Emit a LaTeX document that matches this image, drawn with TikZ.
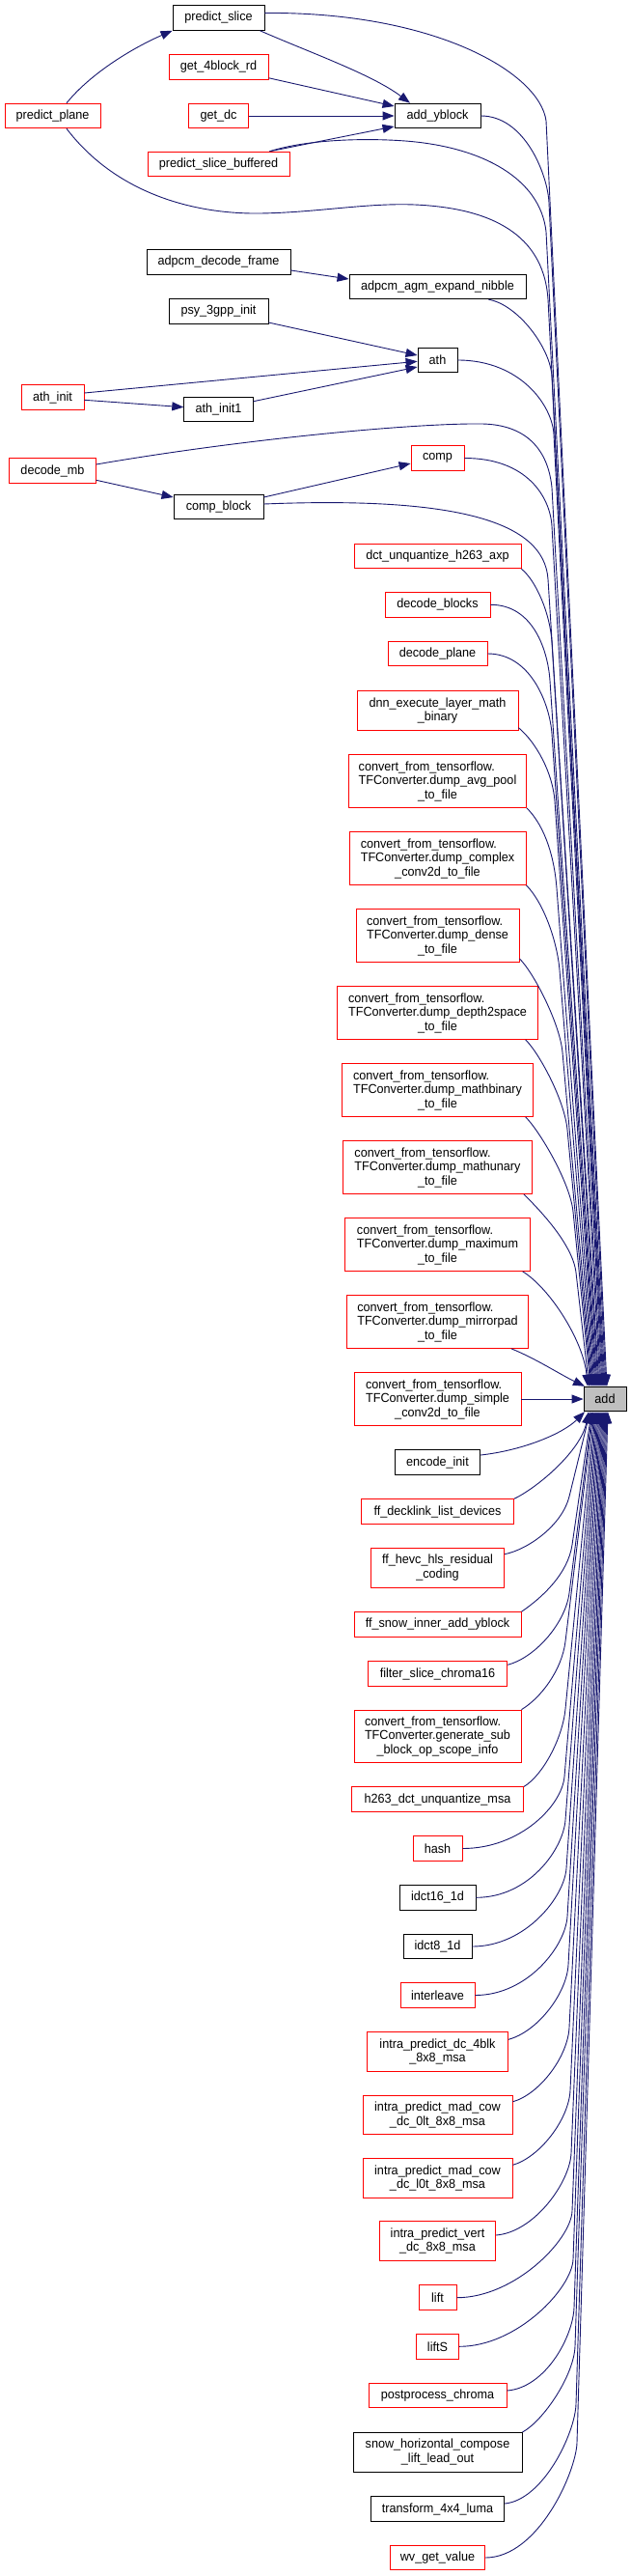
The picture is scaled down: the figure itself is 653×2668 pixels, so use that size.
\documentclass[tikz,border=0pt]{standalone}
\usepackage{fontspec}
\setmainfont{Liberation Sans}[FakeStretch=0.95]
\usepackage{calc}
\usetikzlibrary{arrows.meta,calc}
\definecolor{edgec}{HTML}{191970}
\definecolor{nred}{HTML}{FF0000}
\definecolor{addfill}{HTML}{BFBFBF}
\newcommand\tfc[2]{\makebox[\widthof{TFConverter.#1}][l]{convert\_from\_tensorflow.}\\TFConverter.#1\\#2}
\newcommand\bendedge[4]{\draw[callarrow] (#1) .. controls +(#2) and ($(#3)!-30pt!(#4)$) .. (#3) -- (#4);}
\tikzset{
 nodebox/.style={draw=black, line width=0.9pt, inner sep=0pt, align=center, font=\fontsize{13.3pt}{14.5pt}\selectfont, minimum height=25.6pt},
 rednode/.style={nodebox, draw=nred},
 twol/.style={minimum height=40.5pt},
 threel/.style={minimum height=54.8pt},
 callarrow/.style={draw=edgec, line width=0.9pt, -{Triangle[length=12pt,width=9pt]}},
}
\begin{document}
\begin{tikzpicture}[x=1pt,y=-1pt]
\path[use as bounding box, fill=white] (0,0) rectangle (653,2668);
% rank -1
\node[rednode, minimum width=99pt] (pplane) at (54.5,120) {predict\_plane};
\node[rednode, minimum width=65pt] (athinit) at (54.5,411.7) {ath\_init};
\node[rednode, minimum width=89.5pt] (decmb) at (54.5,487.5) {decode\_mb};
% rank 0
\node[nodebox, minimum width=95pt] (pslice) at (226.5,18.5) {predict\_slice};
\node[rednode, minimum width=103pt] (g4b) at (226.5,69.5) {get\_4block\_rd};
\node[rednode, minimum width=61.5pt] (getdc) at (226.5,120) {get\_dc};
\node[rednode, minimum width=147pt] (psb) at (226.5,170) {predict\_slice\_buffered};
\node[nodebox, minimum width=149pt] (adf) at (226.5,271.5) {adpcm\_decode\_frame};
\node[nodebox, minimum width=103pt] (psy) at (226.5,322.3) {psy\_3gpp\_init};
\node[nodebox, minimum width=71.5pt] (athinit1) at (226.5,424) {ath\_init1};
\node[nodebox, minimum width=93pt] (compblock) at (226.5,525) {comp\_block};
% rank 1
\node[nodebox, minimum width=89pt] (addy) at (453.5,120) {add\_yblock};
\node[nodebox, minimum width=183pt] (agm) at (453.5,297) {adpcm\_agm\_expand\_nibble};
\node[nodebox, minimum width=41pt] (ath) at (453.5,373) {ath};
\node[rednode, minimum width=55pt] (comp) at (453.5,474.5) {comp};
\node[rednode, minimum width=173pt] (dct) at (453.5,576) {dct\_unquantize\_h263\_axp};
\node[rednode, minimum width=109pt] (decblocks) at (453.5,626.3) {decode\_blocks};
\node[rednode, minimum width=103pt] (decplane) at (453.5,677) {decode\_plane};
\node[rednode, twol, minimum width=167pt] (dnn) at (453.5,736) {dnn\_execute\_layer\_math\\\_binary};
\node[rednode, threel, minimum width=184pt] (avgpool) at (453.5,809) {\tfc{dump\_avg\_pool}{\_to\_file}};
\node[rednode, threel, minimum width=183pt] (complex) at (453.5,889) {\tfc{dump\_complex}{\_conv2d\_to\_file}};
\node[rednode, threel, minimum width=169pt] (dense) at (453.5,969) {\tfc{dump\_dense}{\_to\_file}};
\node[rednode, threel, minimum width=208.5pt] (d2s) at (453.5,1049) {\tfc{dump\_depth2space}{\_to\_file}};
\node[rednode, threel, minimum width=198.5pt] (mbin) at (453.5,1129) {\tfc{dump\_mathbinary}{\_to\_file}};
\node[rednode, threel, minimum width=196pt] (mun) at (453.5,1209) {\tfc{dump\_mathunary}{\_to\_file}};
\node[rednode, threel, minimum width=191.5pt] (maxim) at (453.5,1289) {\tfc{dump\_maximum}{\_to\_file}};
\node[rednode, threel, minimum width=188pt] (mirror) at (453.5,1369) {\tfc{dump\_mirrorpad}{\_to\_file}};
\node[rednode, threel, minimum width=173pt] (simple) at (453.5,1449) {\tfc{dump\_simple}{\_conv2d\_to\_file}};
\node[nodebox, minimum width=88.5pt] (encinit) at (453.5,1514.5) {encode\_init};
\node[rednode, minimum width=158pt] (decklink) at (453.5,1565.5) {ff\_decklink\_list\_devices};
\node[rednode, twol, minimum width=138pt] (hevc) at (453.5,1623.7) {ff\_hevc\_hls\_residual\\\_coding};
\node[rednode, minimum width=173pt] (snowinner) at (453.5,1682.5) {ff\_snow\_inner\_add\_yblock};
\node[rednode, minimum width=144.5pt] (filter) at (453.5,1733.5) {filter\_slice\_chroma16};
\node[rednode, threel, minimum width=173pt] (gensub) at (453.5,1798.5) {\tfc{generate\_sub}{\_block\_op\_scope\_info}};
\node[rednode, minimum width=178pt] (h263) at (453.5,1863.7) {h263\_dct\_unquantize\_msa};
\node[rednode, minimum width=51pt] (hash) at (453.5,1914.5) {hash};
\node[nodebox, minimum width=79pt] (idct16) at (453.5,1965.3) {idct16\_1d};
\node[nodebox, minimum width=71pt] (idct8) at (453.5,2016) {idct8\_1d};
\node[rednode, minimum width=77pt] (interleave) at (453.5,2066.5) {interleave};
\node[rednode, twol, minimum width=146pt] (dcblk) at (453.5,2125) {intra\_predict\_dc\_4blk\\\_8x8\_msa};
\node[rednode, twol, minimum width=155pt] (mczlt) at (453.5,2190.5) {intra\_predict\_mad\_cow\\\_dc\_0lt\_8x8\_msa};
\node[rednode, twol, minimum width=155pt] (mclzt) at (453.5,2256) {intra\_predict\_mad\_cow\\\_dc\_l0t\_8x8\_msa};
\node[rednode, twol, minimum width=120pt] (vert) at (453.5,2321) {intra\_predict\_vert\\\_dc\_8x8\_msa};
\node[rednode, minimum width=39pt] (lift) at (453.5,2379.7) {lift};
\node[rednode, minimum width=44pt] (liftS) at (453.5,2430.3) {liftS};
\node[rednode, minimum width=143pt] (postproc) at (453.5,2481) {postprocess\_chroma};
\node[nodebox, twol, minimum width=175pt] (snowh) at (453.5,2539.7) {snow\_horizontal\_compose\\\_lift\_lead\_out};
\node[nodebox, minimum width=138.5pt] (transform) at (453.5,2598.5) {transform\_4x4\_luma};
\node[rednode, minimum width=98pt] (wv) at (453.5,2649) {wv\_get\_value};
% rank 2
\node[nodebox, fill=addfill, minimum width=44pt] (add) at (627,1449) {add};
% tips on add
\coordinate (n1) at ([xshift=-21pt]add.north);
\coordinate (n2) at ([xshift=-18pt]add.north);
\coordinate (n3) at ([xshift=-16.5pt]add.north);
\coordinate (n4) at ([xshift=-15pt]add.north);
\coordinate (n5) at ([xshift=-14pt]add.north);
\coordinate (n6) at ([xshift=-13pt]add.north);
\coordinate (n7) at ([xshift=-12pt]add.north);
\coordinate (n8) at ([xshift=-11pt]add.north);
\coordinate (n9) at ([xshift=-10pt]add.north);
\coordinate (n10) at ([xshift=-9pt]add.north);
\coordinate (n11) at ([xshift=-8pt]add.north);
\coordinate (n12) at ([xshift=-7pt]add.north);
\coordinate (n13) at ([xshift=-6pt]add.north);
\coordinate (n14) at ([xshift=-5pt]add.north);
\coordinate (n15) at ([xshift=-4pt]add.north);
\coordinate (n16) at ([xshift=-3pt]add.north);
\coordinate (n17) at ([xshift=-2pt]add.north);
\coordinate (n18) at ([xshift=-1pt]add.north);
\coordinate (n19) at (add.north);
\coordinate (n20) at ([xshift=1pt]add.north);
\coordinate (n21) at ([xshift=2pt]add.north);
\coordinate (s1) at ([xshift=-21pt]add.south);
\coordinate (s2) at ([xshift=-17pt]add.south);
\coordinate (s3) at ([xshift=-15.5pt]add.south);
\coordinate (s4) at ([xshift=-14pt]add.south);
\coordinate (s5) at ([xshift=-13pt]add.south);
\coordinate (s6) at ([xshift=-12pt]add.south);
\coordinate (s7) at ([xshift=-11pt]add.south);
\coordinate (s8) at ([xshift=-10pt]add.south);
\coordinate (s9) at ([xshift=-9pt]add.south);
\coordinate (s10) at ([xshift=-8pt]add.south);
\coordinate (s11) at ([xshift=-7pt]add.south);
\coordinate (s12) at ([xshift=-6pt]add.south);
\coordinate (s13) at ([xshift=-5pt]add.south);
\coordinate (s14) at ([xshift=-4pt]add.south);
\coordinate (s15) at ([xshift=-3pt]add.south);
\coordinate (s16) at ([xshift=-2pt]add.south);
\coordinate (s17) at ([xshift=-1pt]add.south);
\coordinate (s18) at (add.south);
\coordinate (s19) at ([xshift=1pt]add.south);
\coordinate (s20) at ([xshift=2pt]add.south);
\coordinate (s21) at ([xshift=3pt]add.south);
% local edges
\draw[callarrow] ([xshift=14.5pt]pplane.north) .. controls +(26,-32) and +(-39,17) .. (pslice.south west);
\draw[callarrow] ([xshift=-5pt]pslice.south east) .. controls +(50,22) and +(-40,-30) .. ([xshift=-28.5pt]addy.north);
\draw[callarrow] ([yshift=2pt]g4b.south east) -- ([yshift=10pt]addy.west);
\draw[callarrow] (getdc.east) -- (addy.west);
\draw[callarrow] ([xshift=-21pt]psb.north east) -- ([yshift=-11pt]addy.west);
\draw[callarrow] ([yshift=-8.5pt]adf.east) -- ([yshift=8pt]agm.west);
\draw[callarrow] ([yshift=1.5pt]psy.south east) -- ([yshift=5pt]ath.west);
\draw[callarrow] ([yshift=4.7pt]athinit.east) -- ([yshift=-1.3pt]ath.west);
\draw[callarrow] ([yshift=-2.6pt]athinit.east) -- ([yshift=2.3pt]athinit1.west);
\draw[callarrow] ([yshift=8.3pt]athinit1.east) -- ([yshift=-7pt]ath.west);
\draw[callarrow] ([yshift=-9.8pt]decmb.east) -- ([yshift=10pt]compblock.west);
\draw[callarrow] ([yshift=10pt]compblock.east) -- ([yshift=-5.5pt]comp.west);
% edges into add from above
\draw[callarrow] ([yshift=5pt]pslice.east) .. controls (450,12) and (559,75) .. (566,125) -- (n21);
\bendedge{addy.east}{45,0}{569,210}{n20}
\draw[callarrow] ([xshift=-21pt]psb.north east) .. controls (320,144) and (380,143) .. (420,146) .. controls (500,152) and (560,185) .. (566,240) -- (n19);
\draw[callarrow] ([xshift=14.5pt]pplane.south) .. controls (120,200) and (200,222) .. (270,221) .. controls (330,220) and (380,210) .. (430,212) .. controls (520,216) and (564,250) .. (568,310) -- (n18);
\bendedge{[xshift=-39pt]agm.south east}{30,5}{572,390}{n17}
\bendedge{ath.east}{65,0}{574,450}{n16}
\draw[callarrow] ([yshift=6.5pt]decmb.east) .. controls (250,455) and (430,438) .. (500,439) .. controls (545,440) and (568,465) .. (572,505) -- (n15);
\bendedge{comp.east}{65,0}{572,545}{n14}
\draw[callarrow] ([yshift=3pt]compblock.east) .. controls +(200,-8) and ($(568,600)!-60pt!(n13)$) .. (568,600) -- (n13);
\bendedge{dct.south east}{15,12}{572,665}{n12}
\bendedge{decblocks.east}{45,0}{570,705}{n11}
\bendedge{decplane.east}{45,0}{572,760}{n10}
\bendedge{[yshift=3pt]dnn.south east}{18,15}{575,830}{n9}
\bendedge{avgpool.south east}{20,20}{577,920}{n8}
\bendedge{complex.south east}{18,18}{580,1005}{n7}
\bendedge{[yshift=4pt]dense.south east}{15,15}{583,1090}{n6}
\bendedge{[xshift=-13.5pt]d2s.south east}{15,15}{588,1170}{n5}
\bendedge{[xshift=-8.5pt]mbin.south east}{15,15}{594,1255}{n4}
\bendedge{[xshift=-9pt]mun.south east}{15,15}{597,1318}{n3}
\draw[callarrow] ([xshift=-8pt]maxim.south east) .. controls +(29,18) and +(-4,-46) .. (n2);
\draw[callarrow] ([xshift=-18pt]mirror.south east) .. controls +(25,10) and +(-25,-12) .. (n1);
\draw[callarrow] (simple.east) -- (add.west);
% edges into add from below
\draw[callarrow] ([yshift=7.5pt]encinit.east) .. controls +(45,-5) and +(-22,22) .. (s1);
\draw[callarrow] (decklink.north east) .. controls +(25,-12) and +(-8,40) .. (s2);
\bendedge{[yshift=-6.7pt]hevc.north east}{25,-5}{590,1550}{s3}
\bendedge{snowinner.north east}{22,-15}{593,1600}{s4}
\bendedge{[yshift=-4pt]filter.north east}{30,-8}{590,1650}{s5}
\bendedge{gensub.north east}{20,-12}{586,1700}{s6}
\bendedge{h263.north east}{20,-12}{586,1770}{s7}
\bendedge{hash.east}{60,0}{585,1840}{s8}
\bendedge{idct16.east}{55,0}{586,1885}{s9}
\bendedge{idct8.east}{55,0}{587,1935}{s10}
\bendedge{interleave.east}{55,0}{588,1985}{s11}
\bendedge{[yshift=-8pt]dcblk.north east}{30,-8}{589,2035}{s12}
\bendedge{[yshift=-7pt]mczlt.north east}{28,-8}{590,2100}{s13}
\bendedge{[yshift=-7pt]mclzt.north east}{28,-8}{591,2165}{s14}
\bendedge{[yshift=6pt]vert.east}{40,-3}{592,2230}{s15}
\bendedge{lift.east}{60,0}{593,2290}{s16}
\bendedge{liftS.east}{60,0}{594,2340}{s17}
\bendedge{[yshift=5pt]postproc.east}{40,-3}{595,2390}{s18}
\bendedge{snowh.north east}{22,-12}{596,2430}{s19}
\bendedge{[yshift=5.5pt]transform.east}{40,-4}{597,2490}{s20}
\bendedge{wv.east}{55,0}{598,2530}{s21}
\end{tikzpicture}
\end{document}
